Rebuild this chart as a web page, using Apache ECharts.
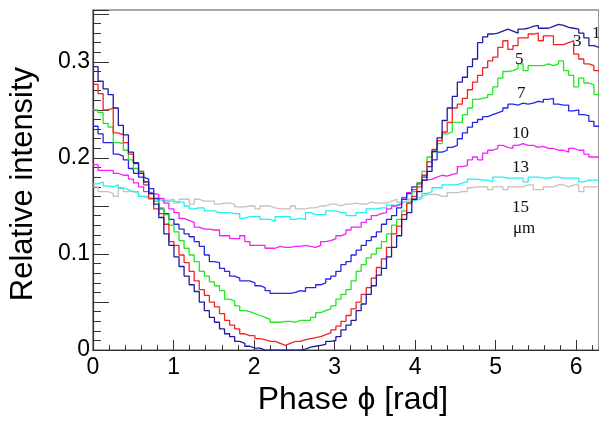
<!DOCTYPE html>
<html>
<head>
<meta charset="utf-8">
<script src="https://cdn.jsdelivr.net/npm/echarts@6/dist/echarts.min.js"></script>
<style>
  html, body { margin: 0; padding: 0; background: #fff; }
  #chart { width: 599px; height: 421px; }
</style>
</head>
<body>
<div id="chart"></div>
<script>
// histogram, 100 bins over [0, 2pi]
const phaseMax = 2 * Math.PI;
const sizeLabels = ["1", "3", "5", "7", "10", "13", "15", "\u03bcm"];

const s1 = [0.295, 0.280, 0.272, 0.266, 0.252, 0.234, 0.224, 0.206, 0.195, 0.184,
  0.175, 0.163, 0.152, 0.138, 0.121, 0.109, 0.097, 0.087, 0.077, 0.068,
  0.061, 0.050, 0.041, 0.034, 0.029, 0.022, 0.017, 0.014, 0.009, 0.007,
  0.004, 0.002, 0.002, 0.0, 0.0, 0.0, 0.0, 0.0, 0.0, 0.0,
  0.0, 0.001, 0.003, 0.004, 0.005, 0.006, 0.009, 0.010, 0.014, 0.021,
  0.026, 0.031, 0.041, 0.048, 0.058, 0.067, 0.078, 0.085, 0.097, 0.107,
  0.119, 0.136, 0.143, 0.157, 0.165, 0.177, 0.186, 0.207, 0.221, 0.239,
  0.252, 0.264, 0.279, 0.284, 0.295, 0.303, 0.320, 0.326, 0.329, 0.330,
  0.332, 0.334, 0.332, 0.330, 0.334, 0.335, 0.337, 0.338, 0.335, 0.335,
  0.337, 0.339, 0.338, 0.336, 0.335, 0.334, 0.330, 0.325, 0.317, 0.315];

const s3 = [0.2765, 0.267, 0.250, 0.252, 0.226, 0.224, 0.216, 0.204, 0.194, 0.186,
  0.172, 0.158, 0.147, 0.142, 0.131, 0.113, 0.109, 0.099, 0.091, 0.082,
  0.072, 0.063, 0.057, 0.050, 0.045, 0.038, 0.031, 0.026, 0.022, 0.017,
  0.015, 0.015, 0.012, 0.011, 0.009, 0.009, 0.007, 0.005, 0.007, 0.009,
  0.009, 0.011, 0.012, 0.013, 0.014, 0.016, 0.018, 0.021, 0.025, 0.030,
  0.036, 0.043, 0.050, 0.058, 0.065, 0.075, 0.086, 0.095, 0.107, 0.121,
  0.129, 0.141, 0.153, 0.160, 0.170, 0.182, 0.196, 0.209, 0.218, 0.227,
  0.237, 0.252, 0.256, 0.262, 0.271, 0.279, 0.286, 0.294, 0.301, 0.305,
  0.315, 0.322, 0.313, 0.317, 0.325, 0.325, 0.329, 0.330, 0.322, 0.327,
  0.327, 0.318, 0.318, 0.320, 0.322, 0.308, 0.303, 0.298, 0.296, 0.291];

const s5 = [0.250, 0.2475, 0.236, 0.232, 0.216, 0.215, 0.208, 0.198, 0.189, 0.184,
  0.175, 0.163, 0.155, 0.148, 0.141, 0.130, 0.123, 0.114, 0.106, 0.099,
  0.092, 0.082, 0.077, 0.071, 0.067, 0.062, 0.053, 0.051, 0.046, 0.041,
  0.040, 0.038, 0.036, 0.034, 0.032, 0.029, 0.029, 0.030, 0.030, 0.029,
  0.031, 0.031, 0.031, 0.034, 0.039, 0.041, 0.043, 0.046, 0.053, 0.058,
  0.063, 0.072, 0.082, 0.089, 0.096, 0.100, 0.106, 0.113, 0.121, 0.130,
  0.136, 0.145, 0.153, 0.165, 0.174, 0.186, 0.201, 0.206, 0.215, 0.225,
  0.227, 0.237, 0.237, 0.245, 0.252, 0.261, 0.262, 0.263, 0.266, 0.274,
  0.283, 0.290, 0.291, 0.293, 0.298, 0.291, 0.296, 0.296, 0.296, 0.298,
  0.296, 0.298, 0.301, 0.291, 0.286, 0.274, 0.283, 0.278, 0.276, 0.266];

const s7 = [0.233, 0.225, 0.216, 0.216, 0.204, 0.202, 0.198, 0.189, 0.184, 0.180,
  0.178, 0.168, 0.158, 0.147, 0.142, 0.136, 0.131, 0.126, 0.121, 0.118,
  0.113, 0.108, 0.099, 0.092, 0.091, 0.085, 0.082, 0.077, 0.075, 0.072,
  0.072, 0.070, 0.067, 0.065, 0.062, 0.059, 0.059, 0.059, 0.059, 0.060,
  0.062, 0.061, 0.065, 0.065, 0.068, 0.070, 0.074, 0.077, 0.082, 0.089,
  0.092, 0.099, 0.104, 0.109, 0.114, 0.118, 0.123, 0.131, 0.136, 0.140,
  0.148, 0.157, 0.163, 0.170, 0.173, 0.180, 0.191, 0.198, 0.206, 0.208,
  0.211, 0.213, 0.220, 0.226, 0.232, 0.237, 0.240, 0.243, 0.245, 0.247,
  0.249, 0.252, 0.256, 0.255, 0.257, 0.256, 0.257, 0.259, 0.258, 0.261,
  0.262, 0.256, 0.255, 0.255, 0.249, 0.250, 0.245, 0.244, 0.238, 0.233];

const s10 = [0.193, 0.187, 0.187, 0.187, 0.184, 0.182, 0.182, 0.178, 0.174, 0.170,
  0.165, 0.163, 0.162, 0.158, 0.153, 0.147, 0.143, 0.137, 0.135, 0.133,
  0.128, 0.126, 0.126, 0.125, 0.125, 0.119, 0.119, 0.116, 0.116, 0.119,
  0.113, 0.109, 0.109, 0.109, 0.106, 0.106, 0.108, 0.107, 0.107, 0.108,
  0.108, 0.109, 0.108, 0.107, 0.109, 0.113, 0.114, 0.116, 0.119, 0.121,
  0.125, 0.128, 0.128, 0.133, 0.136, 0.140, 0.142, 0.143, 0.147, 0.150,
  0.152, 0.159, 0.164, 0.167, 0.174, 0.177, 0.178, 0.180, 0.182, 0.181,
  0.183, 0.184, 0.191, 0.192, 0.198, 0.201, 0.198, 0.205, 0.208, 0.210,
  0.213, 0.211, 0.210, 0.213, 0.215, 0.213, 0.213, 0.211, 0.212, 0.210,
  0.210, 0.208, 0.208, 0.206, 0.210, 0.208, 0.208, 0.204, 0.201, 0.201];

const s13 = [0.173, 0.175, 0.171, 0.170, 0.172, 0.169, 0.167, 0.165, 0.165, 0.160,
  0.160, 0.157, 0.157, 0.155, 0.155, 0.155, 0.154, 0.154, 0.150, 0.147,
  0.148, 0.148, 0.145, 0.145, 0.143, 0.143, 0.143, 0.142, 0.142, 0.137,
  0.139, 0.139, 0.139, 0.136, 0.136, 0.134, 0.139, 0.139, 0.139, 0.136,
  0.137, 0.136, 0.143, 0.141, 0.141, 0.141, 0.145, 0.145, 0.143, 0.143,
  0.140, 0.140, 0.143, 0.143, 0.147, 0.147, 0.148, 0.148, 0.151, 0.151,
  0.153, 0.155, 0.155, 0.156, 0.158, 0.163, 0.165, 0.169, 0.169, 0.172,
  0.172, 0.172, 0.174, 0.175, 0.178, 0.178, 0.177, 0.177, 0.175, 0.180,
  0.180, 0.179, 0.179, 0.179, 0.179, 0.175, 0.180, 0.180, 0.179, 0.179,
  0.180, 0.180, 0.179, 0.179, 0.179, 0.179, 0.175, 0.177, 0.177, 0.177];

const s15 = [0.170, 0.165, 0.165, 0.163, 0.160, 0.168, 0.165, 0.165, 0.163, 0.160,
  0.158, 0.158, 0.158, 0.156, 0.156, 0.157, 0.153, 0.157, 0.157, 0.152,
  0.157, 0.155, 0.155, 0.155, 0.152, 0.153, 0.153, 0.152, 0.149, 0.149,
  0.150, 0.150, 0.147, 0.150, 0.150, 0.148, 0.147, 0.147, 0.147, 0.150,
  0.147, 0.147, 0.148, 0.148, 0.150, 0.150, 0.152, 0.152, 0.150, 0.152,
  0.152, 0.153, 0.152, 0.152, 0.154, 0.153, 0.153, 0.153, 0.155, 0.157,
  0.154, 0.157, 0.157, 0.158, 0.160, 0.162, 0.162, 0.162, 0.160, 0.160,
  0.164, 0.164, 0.165, 0.165, 0.169, 0.170, 0.170, 0.170, 0.167, 0.170,
  0.170, 0.167, 0.170, 0.170, 0.170, 0.172, 0.172, 0.167, 0.167, 0.170,
  0.170, 0.172, 0.172, 0.170, 0.172, 0.172, 0.165, 0.170, 0.170, 0.170];

// step points: one at each bin's left edge, plus the right edge of the last bin
function histPoints(values) {
  const w = phaseMax / values.length;
  const pts = values.map((v, i) => [i * w, v]);
  pts.push([phaseMax, values[values.length - 1]]);
  return pts;
}

const histSeries = [
  { name: "15", data: s15, color: "#c9c0b6" },
  { name: "13", data: s13, color: "#22f0f0" },
  { name: "10", data: s10, color: "#f522f5" },
  { name: "7", data: s7, color: "#2626e8" },
  { name: "5", data: s5, color: "#22e822" },
  { name: "3", data: s3, color: "#f52222" },
  { name: "1", data: s1, color: "#1c1ca0" },
];

// top-left corner of each size label
const labelPos = [[592, 25], [573, 33], [515, 51], [517, 85], [512, 125], [512, 159], [512, 199], [513, 220]];

const chart = echarts.init(document.getElementById("chart"));
const axisColor = "#333";

chart.setOption({
  animation: false,
  backgroundColor: "#fff",
  grid: { left: 93, right: -4, top: 10, bottom: 64, show: true, borderColor: "#555", borderWidth: 1.2 },
  xAxis: {
    type: "value", min: 0, max: phaseMax, interval: 1,
    name: "Phase \u03d5 [rad]", nameLocation: "middle", nameGap: 28,
    nameTextStyle: { fontFamily: "Liberation Sans", fontSize: 32, color: "#000", padding: [0, 0, 0, 14] },
    axisLine: { lineStyle: { color: axisColor, width: 1.2 } },
    axisTick: { inside: true, length: 10, lineStyle: { color: axisColor } },
    minorTick: { show: true, splitNumber: 5, length: 5, lineStyle: { color: axisColor } },
    axisLabel: { fontFamily: "Liberation Sans", fontSize: 23, color: "#000", margin: 6, showMaxLabel: false },
    splitLine: { show: false },
  },
  yAxis: {
    type: "value", min: 0, max: 0.354, interval: 0.05,
    name: "Relative intensity", nameLocation: "middle", nameGap: 54, nameRotate: 90,
    nameTextStyle: { fontFamily: "Liberation Sans", fontSize: 31, color: "#000", padding: [0, 0, 0, -8] },
    axisLine: { lineStyle: { color: axisColor, width: 1.2 } },
    axisTick: { inside: true, length: 16, lineStyle: { color: axisColor } },
    minorTick: { show: true, splitNumber: 5, length: 8, lineStyle: { color: axisColor } },
    axisLabel: {
      fontFamily: "Liberation Sans", fontSize: 23, color: "#000", margin: 3, showMaxLabel: false,
      formatter: (v) => (Math.round(v * 100) % 10 === 0 ? String(+v.toFixed(1)) : ""),
    },
    splitLine: { show: false },
  },
  series: histSeries.map((s) => ({
    name: s.name,
    type: "line",
    step: "end",
    showSymbol: false,
    clip: true,
    data: histPoints(s.data),
    lineStyle: { color: s.color, width: 1.3 },
    itemStyle: { color: s.color },
  })),
  graphic: sizeLabels.map((t, i) => ({
    type: "text",
    x: labelPos[i][0],
    y: labelPos[i][1],
    z: 100,
    style: {
      text: t, fontFamily: "Liberation Serif", fontSize: 17, fill: "#111",
    },
  })),
});
</script>
</body>
</html>
